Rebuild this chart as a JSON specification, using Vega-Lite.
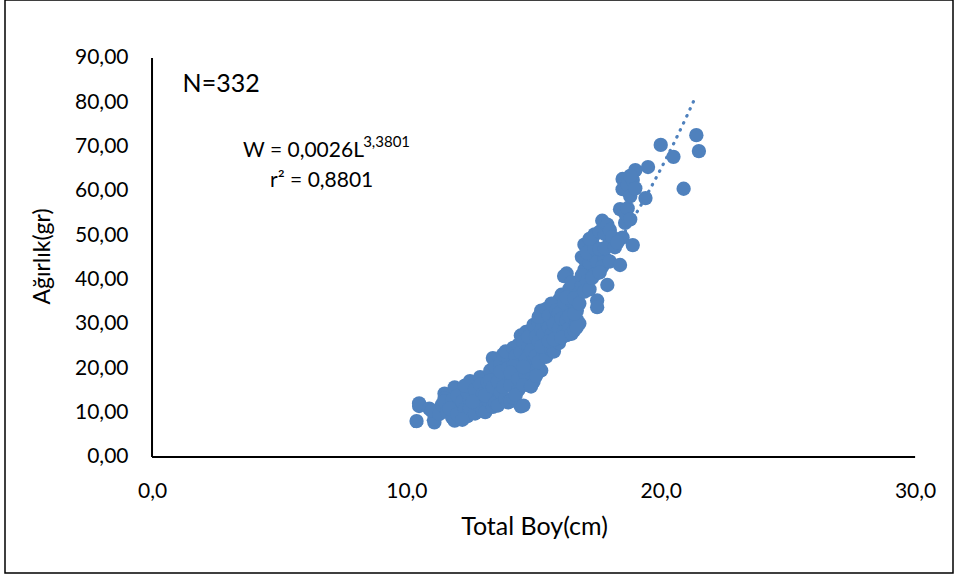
{
  "$schema": "https://vega.github.io/schema/vega-lite/v6.json",
  "width": 948,
  "height": 573,
  "autosize": {"type": "none"},
  "padding": {"left": 5, "top": 0, "right": 2, "bottom": 8},
  "background": "white",
  "config": {
    "view": {"stroke": "#000", "strokeWidth": 1.5},
    "font": "Lato"
  },
  "datasets": {
    "fish": [
      {"L":10.4,"W":8.1},{"L":10.5,"W":11.5},{"L":10.5,"W":12.1},{"L":10.9,"W":10.9},{"L":11.1,"W":7.8},{"L":11.1,"W":8.6},{"L":11.0,"W":10.4},
      {"L":11.3,"W":9.7},{"L":11.4,"W":11.8},{"L":11.5,"W":14.3},{"L":11.5,"W":13.2},{"L":11.6,"W":10.2},{"L":11.5,"W":12.6},
      {"L":11.8,"W":8.9},{"L":11.9,"W":8.2},{"L":11.9,"W":15.7},{"L":12.0,"W":11.2},{"L":11.8,"W":12.9},{"L":12.0,"W":13.8},{"L":11.7,"W":10.9},{"L":12.0,"W":9.6},
      {"L":12.2,"W":12.5},{"L":12.3,"W":10.8},{"L":12.4,"W":9.2},{"L":12.5,"W":17.1},{"L":12.4,"W":14.6},{"L":12.5,"W":12.8},{"L":12.3,"W":16.1},{"L":12.2,"W":8.4},{"L":12.5,"W":11.0},
      {"L":12.7,"W":9.8},{"L":12.8,"W":13.6},{"L":12.9,"W":18.0},{"L":12.7,"W":15.2},{"L":13.0,"W":10.4},{"L":12.9,"W":16.3},{"L":12.8,"W":11.9},{"L":13.0,"W":14.2},{"L":12.6,"W":12.4},
      {"L":13.1,"W":10.1},{"L":13.2,"W":16.8},{"L":13.3,"W":19.5},{"L":13.4,"W":22.3},{"L":13.2,"W":12.8},{"L":13.3,"W":14.9},{"L":13.5,"W":18.2},{"L":13.4,"W":11.3},{"L":13.1,"W":13.9},{"L":13.5,"W":20.4},{"L":13.3,"W":17.3},{"L":13.5,"W":12.2},{"L":13.4,"W":15.8},
      {"L":13.6,"W":11.6},{"L":13.7,"W":21.2},{"L":13.8,"W":23.1},{"L":13.9,"W":19.7},{"L":14.0,"W":16.4},{"L":13.7,"W":14.6},{"L":13.8,"W":18.5},{"L":14.0,"W":22.4},{"L":13.6,"W":17.0},{"L":13.9,"W":13.1},{"L":14.0,"W":12.3},{"L":13.8,"W":15.8},{"L":13.7,"W":19.2},{"L":13.9,"W":23.8},{"L":14.0,"W":20.1},
      {"L":14.1,"W":12.6},{"L":14.2,"W":24.6},{"L":14.3,"W":18.9},{"L":14.4,"W":21.5},{"L":14.5,"W":27.4},{"L":14.1,"W":16.2},{"L":14.2,"W":13.4},{"L":14.3,"W":22.8},{"L":14.4,"W":15.1},{"L":14.5,"W":11.4},{"L":14.5,"W":19.8},{"L":14.2,"W":20.5},{"L":14.4,"W":25.3},{"L":14.3,"W":14.0},{"L":14.1,"W":19.0},{"L":14.5,"W":23.6},{"L":14.6,"W":11.6},{"L":14.4,"W":17.6},
      {"L":14.6,"W":25.9},{"L":14.7,"W":28.2},{"L":14.8,"W":21.3},{"L":14.9,"W":28.6},{"L":15.0,"W":17.0},{"L":14.7,"W":18.4},{"L":14.8,"W":24.7},{"L":14.9,"W":19.6},{"L":15.0,"W":26.3},{"L":14.6,"W":16.2},{"L":14.7,"W":22.0},{"L":14.9,"W":15.9},{"L":15.0,"W":22.9},{"L":14.8,"W":27.1},{"L":14.6,"W":20.3},{"L":15.0,"W":29.8},{"L":14.9,"W":24.1},
      {"L":15.1,"W":27.2},{"L":15.2,"W":30.4},{"L":15.3,"W":19.5},{"L":15.4,"W":32.1},{"L":15.5,"W":25.3},{"L":15.1,"W":22.8},{"L":15.2,"W":26.0},{"L":15.3,"W":28.7},{"L":15.4,"W":23.1},{"L":15.5,"W":30.6},{"L":15.1,"W":18.3},{"L":15.2,"W":21.4},{"L":15.3,"W":33.0},{"L":15.4,"W":27.8},{"L":15.5,"W":22.6},{"L":15.3,"W":24.9},{"L":15.2,"W":31.6},{"L":15.5,"W":33.4},
      {"L":15.6,"W":29.2},{"L":15.7,"W":24.2},{"L":15.8,"W":33.5},{"L":15.9,"W":27.0},{"L":16.0,"W":35.4},{"L":15.6,"W":31.9},{"L":15.7,"W":27.6},{"L":15.8,"W":23.8},{"L":15.9,"W":30.8},{"L":16.0,"W":25.7},{"L":15.6,"W":26.1},{"L":15.7,"W":34.6},{"L":15.8,"W":29.9},{"L":15.9,"W":33.1},{"L":16.0,"W":29.1},{"L":15.8,"W":26.5},{"L":16.0,"W":32.4},
      {"L":16.1,"W":36.6},{"L":16.2,"W":28.3},{"L":16.3,"W":41.4},{"L":16.4,"W":33.6},{"L":16.5,"W":30.2},{"L":16.1,"W":31.2},{"L":16.2,"W":34.8},{"L":16.3,"W":27.5},{"L":16.4,"W":37.9},{"L":16.5,"W":35.2},{"L":16.2,"W":40.8},{"L":16.3,"W":30.9},{"L":16.4,"W":29.0},{"L":16.5,"W":39.4},{"L":16.1,"W":26.9},{"L":16.3,"W":36.0},{"L":16.5,"W":27.8},{"L":16.4,"W":31.8},
      {"L":16.6,"W":28.6},{"L":16.7,"W":33.0},{"L":16.8,"W":36.9},{"L":16.9,"W":45.1},{"L":17.0,"W":47.9},{"L":16.6,"W":35.8},{"L":16.7,"W":31.0},{"L":16.8,"W":30.1},{"L":16.9,"W":38.8},{"L":17.0,"W":42.2},{"L":16.6,"W":32.3},{"L":16.8,"W":34.6},{"L":16.9,"W":41.0},{"L":17.0,"W":37.3},{"L":16.7,"W":29.3},{"L":17.0,"W":44.6},
      {"L":17.1,"W":39.7},{"L":17.2,"W":43.8},{"L":17.3,"W":48.6},{"L":17.4,"W":41.2},{"L":17.5,"W":35.3},{"L":17.5,"W":33.8},{"L":17.2,"W":37.8},{"L":17.3,"W":45.5},{"L":17.4,"W":50.2},{"L":17.1,"W":46.1},{"L":17.5,"W":44.0},{"L":17.3,"W":40.4},{"L":17.4,"W":47.0},{"L":17.2,"W":49.2},
      {"L":17.6,"W":50.8},{"L":17.7,"W":53.3},{"L":17.8,"W":44.8},{"L":17.9,"W":38.8},{"L":18.0,"W":48.5},{"L":17.6,"W":46.9},{"L":17.7,"W":42.9},{"L":17.8,"W":50.3},{"L":17.9,"W":52.4},{"L":18.0,"W":44.1},{"L":17.6,"W":41.6},{"L":17.8,"W":47.1},{"L":18.0,"W":51.2},
      {"L":18.1,"W":49.6},{"L":18.2,"W":47.3},{"L":18.4,"W":43.3},{"L":18.5,"W":62.7},{"L":18.4,"W":55.9},{"L":18.5,"W":49.5},{"L":18.3,"W":48.4},{"L":18.5,"W":60.4},{"L":18.6,"W":52.8},{"L":18.6,"W":54.9},
      {"L":18.7,"W":56.1},{"L":18.7,"W":61.4},{"L":18.8,"W":53.6},{"L":18.9,"W":47.8},{"L":19.0,"W":64.7},{"L":18.9,"W":62.5},{"L":18.8,"W":58.8},{"L":19.0,"W":60.6},{"L":18.8,"W":63.4},
      {"L":19.4,"W":58.4},{"L":19.5,"W":65.4},{"L":20.0,"W":70.4},{"L":20.5,"W":67.7},{"L":20.9,"W":60.5},{"L":21.4,"W":72.6},{"L":21.5,"W":69.0}
    ],
    "trend": [
      {"L":10.3,"W":6.90},{"L":10.5,"W":7.36},{"L":11.0,"W":8.61},{"L":11.5,"W":10.01},{"L":12.0,"W":11.55},{"L":12.5,"W":13.26},
      {"L":13.0,"W":15.15},{"L":13.5,"W":17.20},{"L":14.0,"W":19.46},{"L":14.5,"W":21.90},{"L":15.0,"W":24.56},{"L":15.5,"W":27.44},
      {"L":16.0,"W":30.55},{"L":16.5,"W":33.90},{"L":17.0,"W":37.50},{"L":17.5,"W":41.36},{"L":18.0,"W":45.50},{"L":18.5,"W":49.91},
      {"L":19.0,"W":54.62},{"L":19.5,"W":59.62},{"L":20.0,"W":64.96},{"L":20.5,"W":70.60},{"L":21.0,"W":76.60},{"L":21.4,"W":81.65}
    ],
    "axisLines": [
      {"L":0,"L2":0,"W":0,"W2":90},
      {"L":0,"L2":30,"W":0,"W2":0}
    ]
  },
  "encoding": {
    "x": {
      "field": "L",
      "type": "quantitative",
      "scale": {"domain": [-5.78, 31.49], "nice": false, "zero": false},
      "axis": {
        "values": [0, 10, 20, 30],
        "labelExpr": "replace(format(datum.value, '.1f'), '.', ',')",
        "domain": false,
        "ticks": false,
        "grid": false,
        "offset": -116,
        "labelPadding": 23,
        "labelFontSize": 21,
        "labelColor": "#000",
        "labelFont": "Lato",
        "title": "Total Boy(cm)",
        "titleFont": "Lato",
        "titleFontSize": 25,
        "titleFontWeight": "normal",
        "titleColor": "#000",
        "titleX": 529,
        "titlePadding": 13
      }
    },
    "y": {
      "field": "W",
      "type": "quantitative",
      "scale": {"domain": [-26.17, 103.08], "nice": false, "zero": false},
      "axis": {
        "values": [0, 10, 20, 30, 40, 50, 60, 70, 80, 90],
        "labelExpr": "replace(format(datum.value, '.2f'), '.', ',')",
        "domain": false,
        "ticks": false,
        "grid": false,
        "offset": -147,
        "labelPadding": 24,
        "labelFontSize": 21,
        "labelColor": "#000",
        "labelFont": "Lato",
        "title": "Ağırlık(gr)",
        "titleFont": "Lato",
        "titleFontSize": 23,
        "titleFontWeight": "normal",
        "titleColor": "#000",
        "titlePadding": 20,
        "titleY": 256
      }
    }
  },
  "layer": [
    {
      "data": {"name": "axisLines"},
      "mark": {"type": "rule", "color": "#000", "strokeWidth": 2},
      "encoding": {
        "x2": {"field": "L2"},
        "y2": {"field": "W2"}
      }
    },
    {
      "data": {"name": "trend"},
      "mark": {
        "type": "line",
        "color": "#4f81bd",
        "strokeWidth": 3.2,
        "strokeDash": [0.5, 7.2],
        "strokeCap": "round",
        "interpolate": "monotone"
      },
      "encoding": {}
    },
    {
      "data": {"name": "fish"},
      "mark": {"type": "circle", "color": "#4f81bd", "opacity": 1, "size": 205}
    },
    {
      "data": {"values": [{"L": 1.2, "W": 84.1, "label": "N=332"}]},
      "mark": {"type": "text", "align": "left", "baseline": "middle", "fontSize": 25, "font": "Lato", "color": "#000"},
      "encoding": {"text": {"field": "label"}}
    },
    {
      "data": {"values": [
        {"L": 3.58, "W": 69.1, "label": "W = 0,0026L"},
        {"L": 4.64, "W": 62.2, "label": "r² = 0,8801"}
      ]},
      "mark": {"type": "text", "align": "left", "baseline": "middle", "fontSize": 21, "font": "Lato", "color": "#000"},
      "encoding": {"text": {"field": "label"}}
    },
    {
      "data": {"values": [{"L": 8.3, "W": 71.0, "label": "3,3801"}]},
      "mark": {"type": "text", "align": "left", "baseline": "middle", "fontSize": 15, "font": "Lato", "color": "#000"},
      "encoding": {"text": {"field": "label"}}
    }
  ]
}
